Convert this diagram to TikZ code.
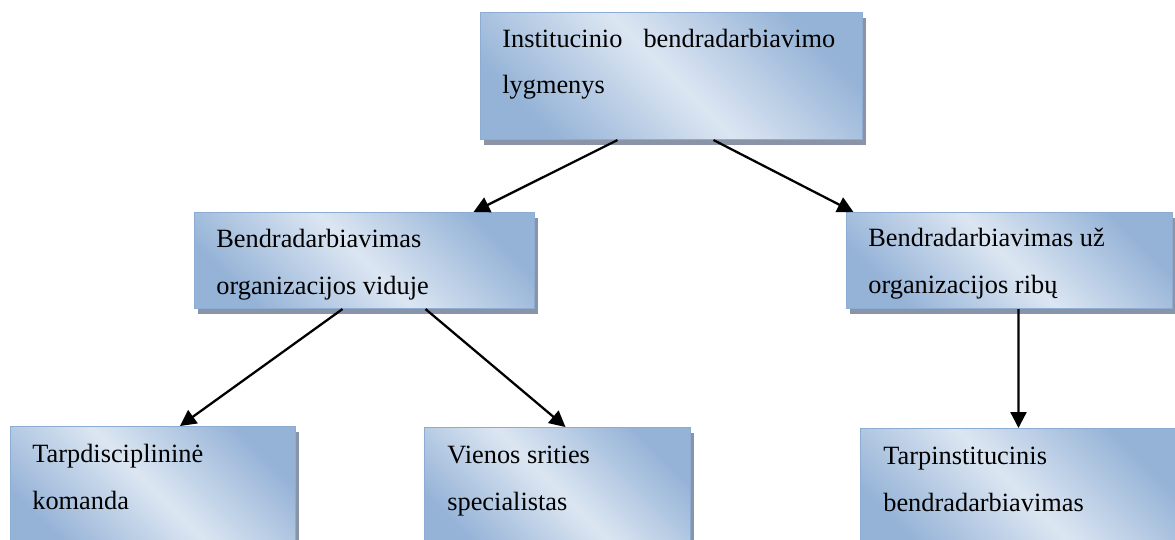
\documentclass[tikz,border=0pt]{standalone}
\usepackage{fontspec}
\setmainfont{Liberation Serif}
\usepackage{xcolor}
\usepackage{tikz}
\usetikzlibrary{positioning, calc, shadows, arrows.meta}

\definecolor{boxdark}{RGB}{149,179,215}
\definecolor{boxlight}{RGB}{220,230,242}
\definecolor{boxedge}{RGB}{140,172,212}
\definecolor{boxshadow}{RGB}{137,149,166}

\begin{document}
\begin{tikzpicture}[x=0.02cm, y=-0.02cm]

\tikzstyle{lvlbox}=[rectangle, draw=boxedge, line width=0.6pt, anchor=north west, inner sep=0pt, top color=boxdark, bottom color=boxdark, middle color=boxlight, shading angle=-45, drop shadow={shadow xshift=0.07cm, shadow yshift=-0.11cm, fill=boxshadow, opacity=1}]
\tikzstyle{lvltxt}=[anchor=base west, inner sep=0pt, align=left, font=\fontsize{15}{26.2}\selectfont]
\tikzstyle{lvlarrow}=[-{Triangle[length=0.32cm, width=0.32cm]}, line width=1.3pt]

\useasboundingbox (0,0) rectangle (1175,539);

\node (l01) at (480,12) [lvlbox, minimum width=7.64cm, minimum height=2.54cm] {};
\node (l11) at (194,212) [lvlbox, minimum width=6.8cm, minimum height=1.92cm] {};
\node (l12) at (846,212) [lvlbox, minimum width=6.52cm, minimum height=1.92cm] {};
\node (l21) at (10,426) [lvlbox, minimum width=5.7cm, minimum height=2.5cm] {};
\node (l22) at (424,427) [lvlbox, minimum width=5.32cm, minimum height=2.5cm] {};
\node (l23) at (860,428) [lvlbox, minimum width=6.32cm, minimum height=2.5cm] {};

% text sits on the baseline of its last line
\node (x01) at (502,47) [lvltxt, text width=6.66cm] {Institucinio\hfill bendradarbiavimo\\lygmenys};
\node (x11) at (216,294) [lvltxt] {Bendradarbiavimas\\organizacijos viduje};
\node (x12) at (868,293) [lvltxt] {Bendradarbiavimas už\\organizacijos ribų};
\node (x21) at (32,509) [lvltxt] {Tarpdisciplininė\\komanda};
\node (x22) at (447,510) [lvltxt] {Vienos srities\\specialistas};
\node (x23) at (883,511) [lvltxt] {Tarpinstitucinis\\bendradarbiavimas};


\draw [lvlarrow] ($(l01.south)+(-54,0)$) -- ($(l11.north)+(109,0)$);
\draw [lvlarrow] ($(l01.south)+(42,0)$) -- ($(l12.north)+(-156,0)$);

\draw [lvlarrow] ($(l11.south)+(-22,0)$) -- ($(l21.north)+(27,0)$);
\draw [lvlarrow] ($(l11.south)+(61,0)$) -- ($(l22.north)+(8,0)$);

\draw [lvlarrow] ($(l12.south)+(9,0)$) -- (l23.north);

\end{tikzpicture}
\end{document}
